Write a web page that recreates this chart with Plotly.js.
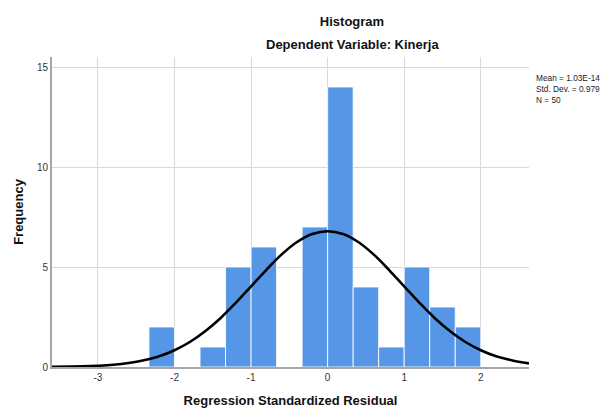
<!DOCTYPE html>
<html>
<head>
<meta charset="utf-8">
<script src="https://cdn.plot.ly/plotly-3.0.1.min.js"></script>
<style>html,body{margin:0;padding:0;background:#fff;}#chart{width:605px;height:409px;}</style>
</head>
<body>
<div id="chart"></div>
<script>
// Histogram bins (width 1/3), centers and counts
const binCenters = [-2.1667, -1.8333, -1.5, -1.1667, -0.8333, -0.5, -0.1667, 0.1667, 0.5, 0.8333, 1.1667, 1.5, 1.8333];
const binCounts  = [2, 0, 1, 5, 6, 0, 7, 14, 4, 1, 5, 3, 2];
const binWidth = 1 / 3;

// Normal curve points
const curveX = [-3.6, -3.2, -3.0, -2.8, -2.6, -2.4, -2.2, -2.0, -1.8, -1.6, -1.4, -1.2, -1.0, -0.8, -0.6, -0.4, -0.2, 0.0,
                0.2, 0.4, 0.6, 0.8, 1.0, 1.2, 1.4, 1.6, 1.8, 2.0, 2.2, 2.4, 2.63];
const curveY = [0.01, 0.03, 0.06, 0.11, 0.20, 0.34, 0.54, 0.84, 1.25, 1.79, 2.44, 3.21, 4.03, 4.86, 5.63, 6.25, 6.65, 6.79,
                6.65, 6.25, 5.63, 4.86, 4.03, 3.21, 2.44, 1.79, 1.25, 0.84, 0.54, 0.34, 0.18];

const xTicks = [-3, -2, -1, 0, 1, 2];
const yTicks = [0, 5, 10, 15];
const statsLines = ["Mean = 1.03E-14", "Std. Dev. = 0.979", "N = 50"];

const FONT = "Liberation Sans, Arial, sans-serif";

const traces = [
  {
    type: "bar",
    x: binCenters,
    y: binCounts,
    width: binCenters.map(() => binWidth),
    marker: { color: "rgb(85,150,230)", line: { color: "rgba(255,255,255,0.85)", width: 1 } },
    hoverinfo: "x+y",
    showlegend: false
  },
  {
    type: "scatter",
    mode: "lines",
    x: curveX,
    y: curveY,
    line: { color: "#000", width: 2.6, shape: "spline", smoothing: 1 },
    hoverinfo: "skip",
    showlegend: false
  }
];

const layout = {
  width: 605,
  height: 409,
  margin: { l: 52, r: 76, t: 57, b: 42 },
  paper_bgcolor: "#fff",
  plot_bgcolor: "#fff",
  font: { family: FONT, color: "#222" },
  title: {
    text: "<b>Histogram</b>",
    font: { family: FONT, size: 13, color: "#111" },
    x: 352 / 605, xanchor: "center", xref: "container",
    y: 1 - 21 / 409, yanchor: "middle", yref: "container"
  },
  xaxis: {
    range: [-3.6, 2.63],
    tickvals: xTicks,
    ticktext: xTicks.map(String),
    showgrid: true, gridcolor: "#d9d9d9", gridwidth: 1,
    zeroline: false,
    showline: true, linecolor: "#a6a6a6", linewidth: 2,
    ticks: "",
    tickfont: { family: FONT, size: 10, color: "#333" },
    title: { text: "<b>Regression Standardized Residual</b>", font: { family: FONT, size: 13, color: "#111" }, standoff: 14 },
    fixedrange: true
  },
  yaxis: {
    range: [0, 15.5],
    tickvals: yTicks,
    ticktext: yTicks.map(String),
    showgrid: true, gridcolor: "#d9d9d9", gridwidth: 1,
    zeroline: false,
    showline: true, linecolor: "#a6a6a6", linewidth: 2,
    ticks: "",
    tickfont: { family: FONT, size: 10, color: "#333" },
    title: { text: "<b>Frequency</b>", font: { family: FONT, size: 13, color: "#111" }, standoff: 10 },
    fixedrange: true
  },
  annotations: [
    {
      text: "<b>Dependent Variable: Kinerja</b>",
      xref: "paper", yref: "paper",
      x: (352 - 52) / 477, y: (367 - 45) / 310,
      xanchor: "center", yanchor: "middle",
      showarrow: false,
      font: { family: FONT, size: 13, color: "#111" }
    },
    {
      text: statsLines.join("<br>"),
      xref: "paper", yref: "paper",
      x: (534 - 52) / 477, y: (367 - 71) / 310,
      xanchor: "left", yanchor: "top", align: "left",
      showarrow: false,
      font: { family: FONT, size: 8.3, color: "#222" }
    }
  ]
};

Plotly.newPlot("chart", traces, layout, { displayModeBar: false, staticPlot: true });
</script>
</body>
</html>
